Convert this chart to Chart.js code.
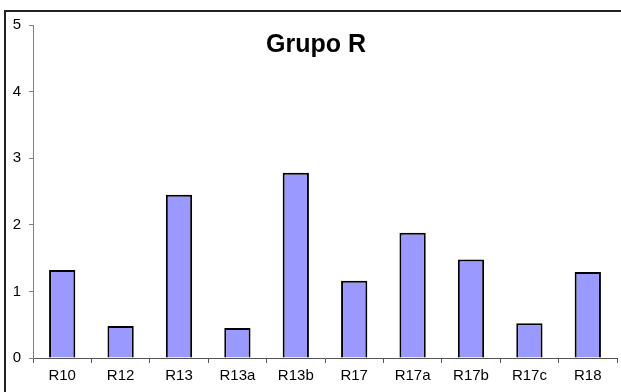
<!DOCTYPE html>
<html>
<head>
<meta charset="utf-8">
<script src="https://cdn.jsdelivr.net/npm/chart.js@4/dist/chart.umd.min.js"></script>
<style>
  html, body { margin: 0; padding: 0; background: #fff; }
  #wrap { width: 621px; height: 392px; }
</style>
</head>
<body>
<div id="wrap"><canvas id="c" width="621" height="392"></canvas></div>
<script>
// Categories and values for the "Grupo R" bar chart
const categories = ['R10', 'R12', 'R13', 'R13a', 'R13b', 'R17', 'R17a', 'R17b', 'R17c', 'R18'];
const values = [1.32, 0.48, 2.45, 0.45, 2.78, 1.16, 1.88, 1.48, 0.52, 1.29];
const yTicks = [0, 1, 2, 3, 4, 5];
const chartTitle = 'Grupo R';

const FONT = '"Liberation Sans", Arial, sans-serif';

// Frame lines around the chart and the centred title
const framePlugin = {
  id: 'frame',
  afterDraw(chart) {
    const ctx = chart.ctx;
    ctx.save();
    ctx.strokeStyle = '#222';
    ctx.lineWidth = 2;
    ctx.beginPath();
    ctx.moveTo(5, 392);
    ctx.lineTo(5, 11);
    ctx.lineTo(621, 11);
    ctx.stroke();
    ctx.fillStyle = '#000';
    ctx.font = 'bold 25px ' + FONT;
    ctx.textAlign = 'center';
    ctx.textBaseline = 'middle';
    ctx.fillText(chartTitle, 316, 45);
    ctx.restore();
  }
};

new Chart(document.getElementById('c'), {
  type: 'bar',
  data: {
    labels: categories,
    datasets: [{
      data: values,
      backgroundColor: '#9999FF',
      borderColor: '#000',
      borderWidth: 2,
      barPercentage: 0.45,
      categoryPercentage: 1.0
    }]
  },
  options: {
    responsive: false,
    devicePixelRatio: 1,
    animation: false,
    layout: { padding: { top: 25, right: 4, left: 0, bottom: 0 } },
    plugins: {
      legend: { display: false },
      title: { display: false },
      tooltip: { enabled: false }
    },
    scales: {
      x: {
        afterFit(scale) { scale.height = 34; },
        offset: true,
        grid: {
          offset: true,
          drawOnChartArea: false,
          drawTicks: true,
          tickLength: 5,
          color: '#555'
        },
        border: { display: true, color: '#555', width: 1 },
        ticks: {
          color: '#000',
          font: { family: FONT, size: 15 },
          padding: 4,
          maxRotation: 0,
          autoSkip: false
        }
      },
      y: {
        afterFit(scale) { scale.width = 33; },
        min: 0,
        max: 5,
        afterBuildTicks(scale) { scale.ticks = yTicks.map(v => ({ value: v })); },
        grid: {
          drawOnChartArea: false,
          drawTicks: true,
          tickLength: 4,
          color: '#808080'
        },
        border: { display: true, color: '#808080', width: 1 },
        ticks: {
          color: '#000',
          font: { family: FONT, size: 15 },
          padding: 8
        }
      }
    }
  },
  plugins: [framePlugin]
});
</script>
</body>
</html>
